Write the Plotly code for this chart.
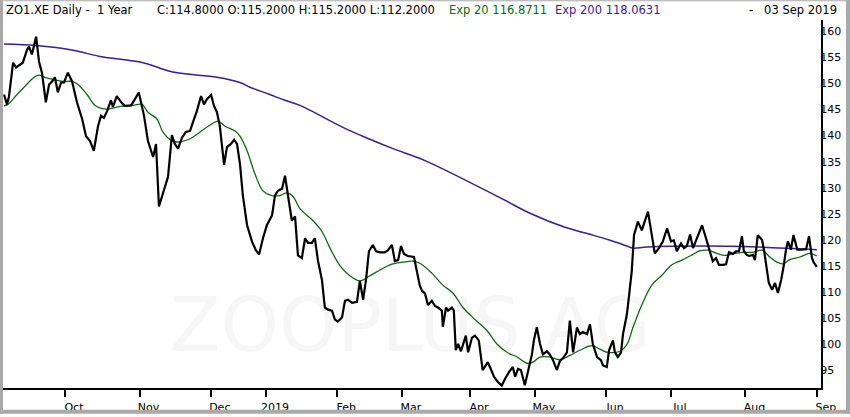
import plotly.graph_objects as go

# ---- data (x = trading-day position since 04 Sep 2018) ----
close_t = [0.2,1.1,1.7,3.0,3.9,5.1,6.0,7.3,7.9,8.8,10.1,11.0,11.9,13.1,14.1,15.0,15.9,16.8,17.8,18.7,19.9,21.2,22.7,24.3,25.5,26.7,27.9,29.2,30.1,31.0,32.0,33.2,33.8,35.0,36.6,37.5,39.4,40.6,41.8,43.4,44.6,46.2,47.1,48.0,49.2,50.8,52.0,52.9,53.9,55.1,56.3,57.6,58.5,59.7,61.0,61.9,62.8,64.1,65.0,65.9,66.8,68.1,69.0,70.2,71.2,72.1,73.0,73.9,75.2,76.7,77.9,78.9,80.1,81.3,82.9,83.8,84.7,86.0,86.9,88.4,89.0,90.0,90.9,92.1,93.1,94.0,95.2,96.1,97.1,98.3,99.2,100.2,101.4,102.3,103.2,104.5,105.4,106.3,107.6,109.1,110.0,111.0,111.9,112.8,114.0,115.0,116.2,117.7,118.7,119.9,120.8,121.8,122.7,123.6,124.8,126.7,127.6,128.5,129.2,130.1,131.0,132.2,133.2,134.1,135.3,135.6,136.6,137.2,138.4,139.0,139.6,140.3,141.2,141.8,142.7,143.4,144.6,145.5,146.7,147.9,148.9,149.5,150.4,151.4,152.6,153.8,154.8,156.0,157.2,157.9,158.8,159.7,160.9,161.9,163.1,163.7,164.6,165.6,166.5,167.7,168.6,169.6,170.8,171.7,172.7,173.9,174.8,175.8,177.0,177.9,178.8,180.1,181.0,181.9,183.2,184.4,185.0,186.2,186.9,188.1,188.7,189.6,190.6,191.2,192.4,193.0,193.9,194.6,195.8,197.0,198.0,198.9,200.1,201.0,202.3,203.5,204.8,206.0,206.9,207.8,209.1,210.0,210.9,211.9,212.8,214.0,215.6,217.1,218.0,218.9,219.9,220.8,222.0,223.0,223.9,225.1,226.1,227.0,227.9,228.5,229.4,230.1,231.3,231.9,232.8,234.1,234.7,235.6,236.2,237.2,238.1,239.0,240.0,240.8,241.5,242.1,243.0,243.8,245.0,246.1,247.7,248.6,249.5,250.1,251.0]
close_v = [147.9,146.0,147.4,154.0,153.1,153.7,154.0,156.5,157.1,155.6,159.0,154.2,152.1,146.4,149.8,150.4,151.2,148.3,150.2,150.2,152.1,150.4,146.4,143.2,139.9,139.0,137.1,141.8,143.8,143.4,144.7,146.8,145.5,147.6,146.2,145.7,145.8,147.0,148.3,143.8,139.0,135.9,138.4,126.4,128.9,132.1,140.1,138.4,137.5,139.6,140.7,140.9,142.6,144.7,147.6,146.0,147.0,147.8,145.7,144.5,141.8,134.4,137.8,138.4,139.2,138.4,134.6,128.5,122.8,119.7,118.0,117.2,120.3,122.8,124.7,128.5,129.4,129.8,132.3,126.6,123.7,124.5,117.0,116.5,120.3,119.4,119.4,120.3,115.9,112.3,107.0,106.6,106.4,104.7,104.3,105.1,108.3,108.5,107.9,108.1,112.1,108.5,112.3,117.8,119.0,117.8,117.6,117.6,118.0,119.0,115.9,116.1,118.8,117.3,116.9,116.7,114.2,111.2,110.2,109.7,107.5,108.3,107.3,107.0,106.4,103.3,107.0,106.4,107.0,106.4,98.8,100.0,98.6,100.0,101.6,98.4,101.2,101.6,100.7,95.0,95.9,96.5,95.2,93.7,92.7,92.0,93.3,94.6,95.6,93.7,95.2,95.0,92.1,95.0,98.0,100.7,103.2,100.0,98.0,98.6,98.0,96.9,95.0,96.7,97.3,98.4,104.5,98.4,103.2,101.9,102.3,101.9,103.8,100.0,97.5,96.9,95.9,95.6,98.8,100.7,98.4,97.5,98.4,101.9,105.7,108.9,114.0,120.9,123.5,121.8,123.5,125.4,120.9,117.4,118.4,119.7,122.2,119.7,119.9,117.8,119.3,118.4,118.8,121.0,118.4,120.3,122.8,119.7,117.8,115.9,116.5,115.2,115.2,115.3,117.6,117.3,117.8,117.8,120.7,117.8,117.1,116.9,117.1,116.1,120.9,120.0,118.1,114.2,111.7,110.4,111.7,109.8,112.3,115.0,118.1,119.7,118.1,120.9,118.1,118.1,118.2,120.7,116.5,115.6,114.8]

ema20_t = [0.2,1.4,4.2,6.7,9.1,11.0,12.8,15.3,18.4,21.2,23.0,25.8,28.3,32.0,36.0,40.0,42.8,44.6,47.4,49.2,52.0,54.5,57.6,60.7,63.7,66.2,68.4,71.5,73.0,75.2,77.6,80.1,82.9,85.3,87.5,89.4,91.5,95.5,98.3,100.8,103.9,106.9,110.0,113.1,116.2,119.3,123.3,126.4,128.5,132.2,135.6,138.7,141.8,145.5,149.2,152.3,155.4,158.5,161.6,163.4,165.6,168.6,171.7,174.8,177.9,181.6,184.1,186.5,190.3,192.4,194.3,197.0,200.1,203.2,206.3,209.4,212.5,214.9,217.4,220.2,222.6,225.1,228.2,231.3,234.1,236.5,238.7,240.6,242.7,245.8,248.8,251.0]
ema20_v = [145.7,146.0,147.9,149.5,151.0,151.6,151.2,150.8,150.4,150.4,149.8,147.9,145.8,145.1,145.6,145.8,146.0,144.5,143.2,140.7,139.0,138.8,139.4,140.7,142.0,142.8,141.8,140.9,139.9,137.1,132.7,129.4,128.5,128.5,129.0,128.3,126.0,123.7,121.6,118.4,115.0,113.1,112.1,113.1,114.2,115.2,115.7,115.9,115.5,113.6,111.3,109.8,107.0,104.7,102.6,100.0,98.4,97.5,96.3,96.5,97.5,97.5,97.0,97.8,98.8,99.7,99.0,98.4,98.6,99.9,103.2,107.5,111.3,113.2,115.2,116.1,117.1,117.9,118.0,117.4,117.0,117.3,117.6,117.6,118.0,116.7,115.7,115.4,116.2,116.7,117.4,116.9]

ema200_t = [0.2,10.1,21.5,29.8,43.1,52.3,65.9,73.0,76.1,82.2,86.9,91.5,105.4,113.1,120.2,130.1,153.8,162.5,173.3,181.9,187.2,192.4,194.3,198.6,216.5,232.8,251.0]
ema200_v = [157.6,157.3,156.4,155.2,154.0,152.2,151.2,150.2,149.3,147.9,146.8,145.8,141.4,139.3,137.5,135.2,127.9,125.1,122.4,120.9,119.9,118.8,118.4,118.6,118.8,118.6,118.1]

month_pos = [19, 42, 64, 81, 103, 123, 144, 164, 186, 206, 229, 251]
month_labels = ["Oct", "Nov", "Dec", "2019", "Feb", "Mar", "Apr", "May", "Jun", "Jul", "Aug", "Sep"]
price_ticks = [95, 100, 105, 110, 115, 120, 125, 130, 135, 140, 145, 150, 155, 160]

header_main = "ZO1.XE Daily -\u00a0\u00a01 Year"
header_ohlc = "C:114.8000 O:115.2000 H:115.2000 L:112.2000"
header_ema20 = "Exp 20 116.8711"
header_ema200 = "Exp 200 118.0631"
header_date = "-\u00a0\u00a0 03 Sep 2019"
watermark = "ZOOPLUS AG"

# ---- styling ----
FONT = "DejaVu Sans"
GREEN = "#0b6b0b"
PURPLE = "#3a1d9a"
W, H = 850, 417
ML, MR, MT, MB = 3, 29, 20, 26
PW, PH = W - ML - MR, H - MT - MB

def px_x(p):
    return (p - ML) / PW

def px_y(p):
    return (H - MB - p) / PH

fig = go.Figure()
fig.add_trace(go.Scatter(x=ema200_t, y=ema200_v, mode="lines", line=dict(color=PURPLE, width=1.5, shape="spline"), hoverinfo="skip"))
fig.add_trace(go.Scatter(x=ema20_t, y=ema20_v, mode="lines", line=dict(color=GREEN, width=1.3, shape="spline"), hoverinfo="skip"))
fig.add_trace(go.Scatter(x=close_t, y=close_v, mode="lines", line=dict(color="#000000", width=2.2), hoverinfo="skip"))

annotations = [
    dict(text=watermark, xref="paper", yref="paper", x=px_x(410), y=px_y(327), xanchor="center", yanchor="middle",
         showarrow=False, font=dict(family=FONT, size=74, color="rgba(0,0,0,0.035)")),
    dict(text=header_main, xref="paper", yref="paper", x=px_x(4), y=px_y(10), xanchor="left", yanchor="middle",
         showarrow=False, font=dict(family=FONT, size=11.5, color="#000000")),
    dict(text=header_ohlc, xref="paper", yref="paper", x=px_x(155), y=px_y(10), xanchor="left", yanchor="middle",
         showarrow=False, font=dict(family=FONT, size=11.5, color="#000000")),
    dict(text=header_ema20, xref="paper", yref="paper", x=px_x(447), y=px_y(10), xanchor="left", yanchor="middle",
         showarrow=False, font=dict(family=FONT, size=11.5, color=GREEN)),
    dict(text=header_ema200, xref="paper", yref="paper", x=px_x(553), y=px_y(10), xanchor="left", yanchor="middle",
         showarrow=False, font=dict(family=FONT, size=11.5, color=PURPLE)),
    dict(text=header_date, xref="paper", yref="paper", x=px_x(839), y=px_y(10), xanchor="right", yanchor="middle",
         showarrow=False, font=dict(family=FONT, size=11.5, color="#000000")),
]

GREY = "#a9a9a9"
shapes = [
    dict(type="rect", xref="paper", yref="paper", x0=px_x(0), x1=px_x(3), y0=px_y(417), y1=px_y(0), fillcolor=GREY, line=dict(width=0), layer="above"),
    dict(type="rect", xref="paper", yref="paper", x0=px_x(846), x1=px_x(850), y0=px_y(417), y1=px_y(0), fillcolor=GREY, line=dict(width=0), layer="above"),
    dict(type="rect", xref="paper", yref="paper", x0=px_x(0), x1=px_x(850), y0=px_y(417), y1=px_y(413), fillcolor=GREY, line=dict(width=0), layer="above"),
    dict(type="rect", xref="paper", yref="paper", x0=px_x(0), x1=px_x(850), y0=px_y(1), y1=px_y(0), fillcolor=GREY, line=dict(width=0), layer="above"),
]

fig.update_layout(
    width=W, height=H,
    margin=dict(l=ML, r=MR, t=MT, b=MB, pad=0),
    paper_bgcolor="#ffffff", plot_bgcolor="#ffffff",
    showlegend=False,
    annotations=annotations,
    shapes=shapes,
    xaxis=dict(range=[-0.12, 252.3], showgrid=False, zeroline=False,
               showline=True, linecolor="#000000", linewidth=2,
               ticks="outside", ticklen=7, tickwidth=1.5, tickcolor="#000000",
               tickvals=month_pos, ticktext=month_labels, ticklabelshift=9, ticklabelstandoff=1,
               tickfont=dict(family=FONT, size=11, color="#000000")),
    yaxis=dict(range=[91.55, 162.2], side="right", showgrid=False, zeroline=False,
               showline=True, linecolor="#000000", linewidth=2, ticks="", ticklen=0,
               tickvals=price_ticks, ticklabelstandoff=-5,
               tickfont=dict(family=FONT, size=11, color="#000000")),
)

fig.write_html("out.html", config={"displayModeBar": False},
               post_script="document.body.style.margin='0px';document.body.style.overflow='hidden';")
